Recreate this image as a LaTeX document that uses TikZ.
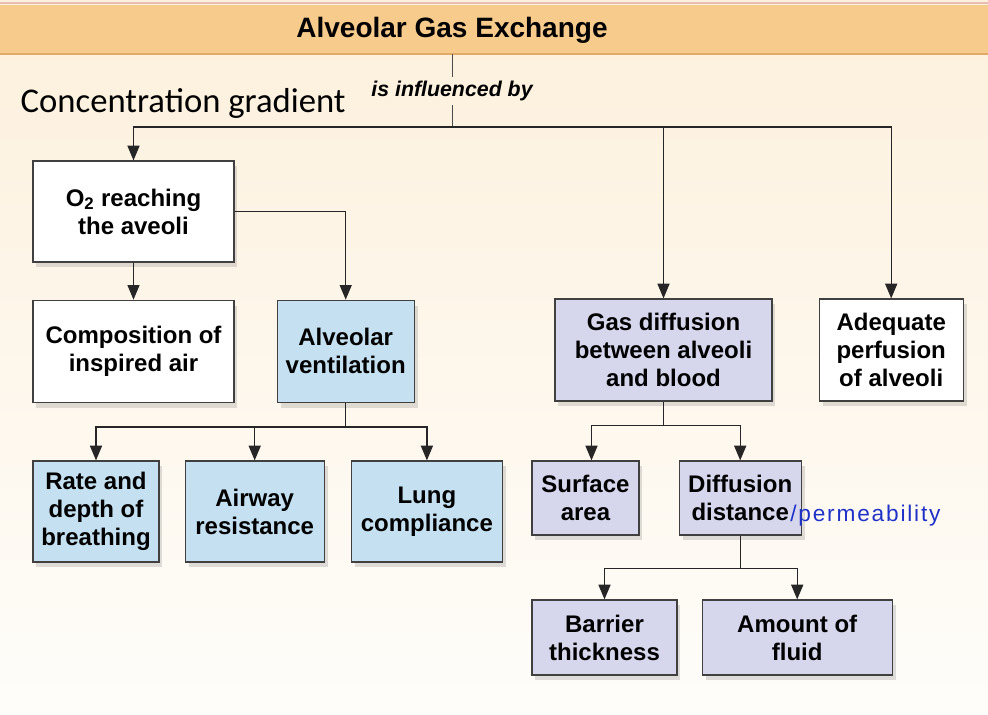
\documentclass[tikz,border=0pt]{standalone}
\usepackage{fontspec}
\setsansfont{Liberation Sans}
\newfontfamily\notefont{Carlito}
\newfontfamily\handfont[LetterSpace=8]{Liberation Sans}
\usepackage{tikz}
\usetikzlibrary{arrows.meta, positioning, shadows}
\usepackage{xcolor}
\definecolor{headband}{RGB}{247,203,140}
\definecolor{headedge}{RGB}{226,170,105}
\definecolor{headtop}{RGB}{232,190,180}
\definecolor{bgtop}{RGB}{253,240,220}
\definecolor{bgbottom}{RGB}{254,253,250}
\definecolor{ventblue}{RGB}{196,224,241}
\definecolor{difflav}{RGB}{214,214,237}
\definecolor{inkblue}{RGB}{30,50,200}
\tikzstyle{factor} = [rectangle, draw=black!75, line width=0.9pt, align=center, inner sep=2pt,
                      font=\sffamily\bfseries\fontsize{18}{21}\selectfont,
                      drop shadow={shadow xshift=2.5pt, shadow yshift=-4pt, opacity=0.25}]
\tikzstyle{link}   = [draw=black!85, line width=1pt, -{Triangle[length=11pt, width=9pt]}]
\tikzstyle{stem}   = [line width=0.6pt, black!70]

\begin{document}
\begin{tikzpicture}[x=0.75pt, y=-0.75pt]
  \useasboundingbox (0,0) rectangle (988,714);
  \shade[top color=bgtop, bottom color=bgbottom] (0,0) rectangle (988,714);

  % header
  \node (header) [fill=headband, minimum width=741pt, minimum height=36.75pt, inner sep=0pt] at (494,29.5) {};
  \draw[headtop, line width=1.5pt] (0,3) -- (988,3);
  \draw[headedge, line width=1.5pt] (header.south west) -- (header.south east);
  \node (title) [font=\sffamily\bfseries\fontsize{21}{24}\selectfont] at (452,30) {Alveolar Gas Exchange};
  \node (gradient) [anchor=base west, font=\notefont\fontsize{26}{30}\selectfont] at (16,112) {Concentration gradient};
  \node (infl) [font=\sffamily\bfseries\itshape\fontsize{16}{19}\selectfont, inner sep=3pt] at (452,91) {is influenced by};
  \coordinate (bus) at (452,127);

  % left branch
  \node (o2)     [factor, fill=white, minimum width=150.75pt, minimum height=75.75pt] at (133.5,211.5) {O\textsubscript{2} reaching\\the aveoli};
  \node (comp)   [factor, fill=white, minimum width=150.75pt, minimum height=76.5pt, below=27.8pt of o2] {Composition of\\inspired air};
  \node (alv)    [factor, fill=ventblue, minimum width=102.75pt, minimum height=76.5pt, right=31.5pt of comp] {Alveolar\\ventilation};
  \node (rate)   [factor, fill=ventblue, minimum width=94.5pt, minimum height=75.75pt] at (96,511.5) {Rate and\\depth of\\breathing};
  \node (airway) [factor, fill=ventblue, minimum width=104.25pt, minimum height=75.75pt, right=18.75pt of rate] {Airway\\resistance};
  \node (lung)   [factor, fill=ventblue, minimum width=113.25pt, minimum height=75.75pt, right=19.5pt of airway] {Lung\\compliance};

  % right branch
  \node (gas)    [factor, fill=difflav, minimum width=162.75pt, minimum height=76.5pt] at (663.5,350) {Gas diffusion\\between alveoli\\and blood};
  \node (perf)   [factor, fill=white, minimum width=108pt, minimum height=76.5pt, right=34.5pt of gas] {Adequate\\perfusion\\of alveoli};
  \node (surf)   [factor, fill=difflav, minimum width=80.25pt, minimum height=55.5pt] at (585.5,498) {Surface\\area};
  \node (dist)   [factor, fill=difflav, minimum width=91.5pt, minimum height=55.5pt, right=29.25pt of surf] {Diffusion\\distance};
  \node (barr)   [factor, fill=difflav, minimum width=108.75pt, minimum height=56.25pt] at (604.5,637.5) {Barrier\\thickness};
  \node (fluid)  [factor, fill=difflav, minimum width=142.5pt, minimum height=56.25pt, right=18pt of barr] {Amount of\\fluid};
  \node (perm)   [anchor=base west, text=inkblue, font=\handfont\fontsize{17}{20}\selectfont, inner sep=0pt] at (790,521) {/permeability};

  % connectors
  \draw[stem] (infl |- header.south) -- (infl.north);
  \draw[stem] (infl.south) -- (bus);
  \draw[link] (bus) -| (o2.north);
  \draw[link] (bus) -| (gas.north);
  \draw[link] (bus) -| (perf.north);
  \draw[link] (o2.south) -- (comp.north);
  \draw[link] (o2.east) -| (alv.north);
  \draw[link] (alv.south) -- ++(0,24) -| (rate.north);
  \draw[link] (alv.south) -- ++(0,24) -| (airway.north);
  \draw[link] (alv.south) -- ++(0,24) -| (lung.north);
  \draw[link] (gas.south) -- ++(0,24) -| ([xshift=4.5pt]surf.north);
  \draw[link] (gas.south) -- ++(0,24) -| (dist.north);
  \draw[link] (dist.south) -- ++(0,33) -| (barr.north);
  \draw[link] (dist.south) -- ++(0,33) -| (fluid.north);
\end{tikzpicture}
\end{document}
